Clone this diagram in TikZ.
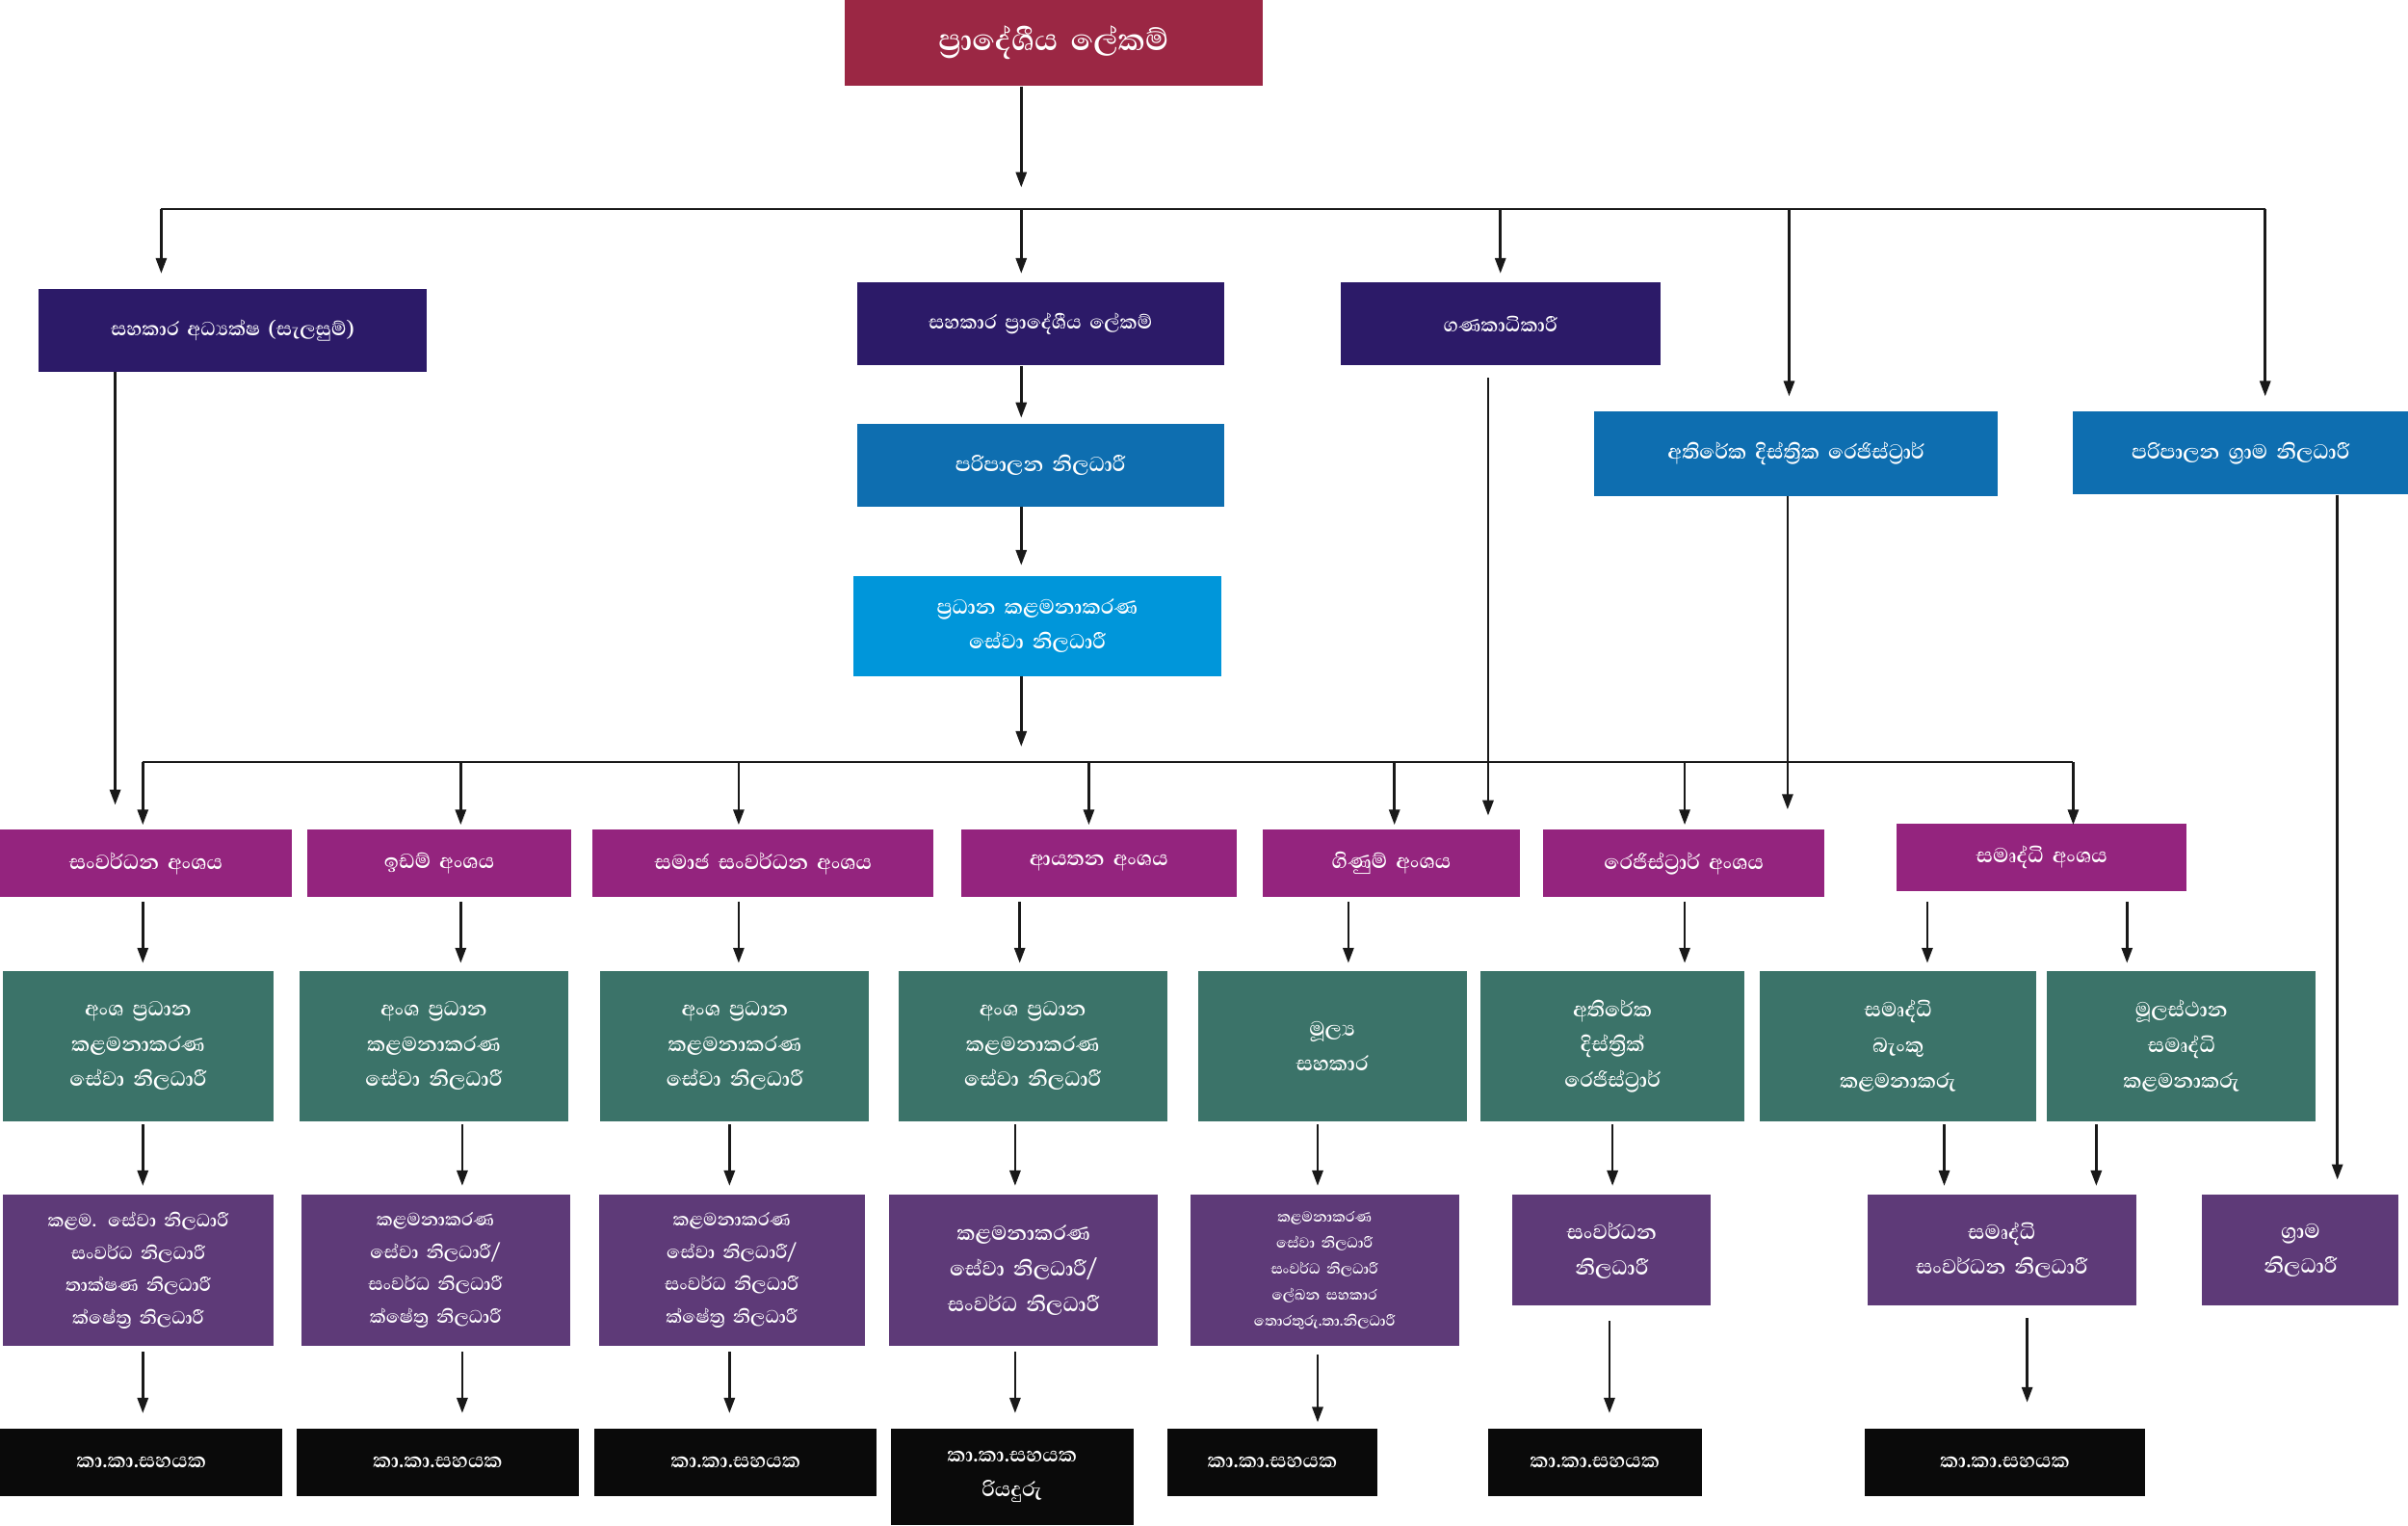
\documentclass[tikz,border=0pt]{standalone}
\usepackage{fontspec}
\newfontfamily\sinfont[Script=Sinhala]{Abhaya Libre}
\usetikzlibrary{arrows.meta}
\definecolor{cmaroon}{RGB}{155,39,68}
\definecolor{cindigo}{RGB}{44,26,104}
\definecolor{cblue}{RGB}{14,110,176}
\definecolor{clblue}{RGB}{0,150,218}
\definecolor{cmag}{RGB}{148,36,126}
\definecolor{cteal}{RGB}{59,115,105}
\definecolor{cpurp}{RGB}{94,58,120}
\definecolor{cblack}{RGB}{10,10,10}
\tikzset{box/.style={draw=none,inner sep=0pt,text=white,align=center,font=\sinfont\bfseries\fontsize{17}{23}\selectfont},
arr/.style={-{Triangle[length=10pt,width=7pt]},line width=1.6pt,draw=black!90},
ln/.style={line width=1.6pt,draw=black!90}}
\newcommand\bx[8][]{\node[box,fill=#7,minimum width={(#4-#2)*1pt},minimum height={(#5-#3)*1pt},text width={(#4-#2-6)*1pt},#1] (#6) at ({(#2+#4)/2},{(#3+#5)/2}) {#8};}
\begin{document}
\begin{tikzpicture}[x=1pt,y=-1pt]
\useasboundingbox (0,0) rectangle (1568,993);
\bx[font=\sinfont\bfseries\fontsize{25}{30}\selectfont]{550}{0}{822}{56}{top}{cmaroon}{ප්‍රාදේශීය ලේකම්}
\bx[font=\sinfont\bfseries\fontsize{16}{22}\selectfont]{25}{188}{278}{242}{aa}{cindigo}{සහකාර අධ්‍යක්ෂ (සැලසුම්)}
\bx[font=\sinfont\bfseries\fontsize{16}{22}\selectfont]{558}{184}{797}{238}{apl}{cindigo}{සහකාර ප්‍රාදේශීය ලේකම්}
\bx[font=\sinfont\bfseries\fontsize{16}{22}\selectfont]{873}{184}{1081}{238}{gk}{cindigo}{ගණකාධිකාරී}
\bx{558}{276}{797}{330}{pn}{cblue}{පරිපාලන නිලධාරී}
\bx{556}{375}{795}{440}{pk}{clblue}{ප්‍රධාන කළමනාකරණ\\සේවා නිලධාරී}
\bx{1038}{268}{1301}{323}{ad}{cblue}{අතිරේක දිස්ත්‍රික රෙජිස්ට්‍රාර්}
\bx{1350}{268}{1568}{322}{pg}{cblue}{පරිපාලන ග්‍රාම නිලධාරී}
% magenta row
\bx{0}{540}{190}{584}{m1}{cmag}{සංවර්ධන අංශය}
\bx{200}{540}{372}{584}{m2}{cmag}{ඉඩම් අංශය}
\bx{386}{540}{608}{584}{m3}{cmag}{සමාජ සංවර්ධන අංශය}
\bx{626}{540}{805}{584}{m4}{cmag}{ආයතන අංශය}
\bx{822}{540}{990}{584}{m5}{cmag}{ගිණුම් අංශය}
\bx{1005}{540}{1188}{584}{m6}{cmag}{රෙජිස්ට්‍රාර් අංශය}
\bx{1235}{536}{1424}{580}{m7}{cmag}{සමෘද්ධි අංශය}
% teal row
\bx{2}{632}{178}{730}{t1}{cteal}{අංශ ප්‍රධාන\\කළමනාකරණ\\සේවා නිලධාරී}
\bx{195}{632}{370}{730}{t2}{cteal}{අංශ ප්‍රධාන\\කළමනාකරණ\\සේවා නිලධාරී}
\bx{391}{632}{566}{730}{t3}{cteal}{අංශ ප්‍රධාන\\කළමනාකරණ\\සේවා නිලධාරී}
\bx{585}{632}{760}{730}{t4}{cteal}{අංශ ප්‍රධාන\\කළමනාකරණ\\සේවා නිලධාරී}
\bx{780}{632}{955}{730}{t5}{cteal}{මූල්‍ය\\සහකාර}
\bx{964}{632}{1136}{730}{t6}{cteal}{අතිරේක\\දිස්ත්‍රික්\\රෙජිස්ට්‍රාර්}
\bx{1146}{632}{1326}{730}{t7}{cteal}{සමෘද්ධි\\බැංකු\\කළමනාකරු}
\bx{1333}{632}{1508}{730}{t8}{cteal}{මූලස්ථාන\\සමෘද්ධි\\කළමනාකරු}
% purple row
\bx[font=\sinfont\bfseries\fontsize{15}{21}\selectfont]{2}{778}{178}{876}{p1}{cpurp}{කළම. සේවා නිලධාරී\\සංවර්ධ නිලධාරී\\තාක්ෂණ නිලධාරී\\ක්ෂේත්‍ර නිලධාරී}
\bx[font=\sinfont\bfseries\fontsize{15}{21}\selectfont]{196}{778}{371}{876}{p2}{cpurp}{කළමනාකරණ\\සේවා නිලධාරී/\\සංවර්ධ නිලධාරී\\ක්ෂේත්‍ර නිලධාරී}
\bx[font=\sinfont\bfseries\fontsize{15}{21}\selectfont]{390}{778}{563}{876}{p3}{cpurp}{කළමනාකරණ\\සේවා නිලධාරී/\\සංවර්ධ නිලධාරී\\ක්ෂේත්‍ර නිලධාරී}
\bx{579}{778}{754}{876}{p4}{cpurp}{කළමනාකරණ\\සේවා නිලධාරී/\\සංවර්ධ නිලධාරී}
\bx[font=\sinfont\bfseries\fontsize{12}{17}\selectfont]{775}{778}{950}{876}{p5}{cpurp}{කළමනාකරණ\\සේවා නිලධාරී\\සංවර්ධ නිලධාරී\\ලේඛන සහකාර\\තොරතුරු.තා.නිලධාරී}
\bx{985}{778}{1114}{850}{p6}{cpurp}{සංවර්ධන\\නිලධාරී}
\bx{1216}{778}{1391}{850}{p7}{cpurp}{සමෘද්ධි\\සංවර්ධන නිලධාරී}
\bx{1434}{778}{1562}{850}{p8}{cpurp}{ග්‍රාම\\නිලධාරී}
% black row
\bx{0}{930}{184}{974}{b1}{cblack}{කා.කා.සහයක}
\bx{193}{930}{377}{974}{b2}{cblack}{කා.කා.සහයක}
\bx{387}{930}{571}{974}{b3}{cblack}{කා.කා.සහයක}
\bx{580}{930}{738}{993}{b4}{cblack}{කා.කා.සහයක\\රියදුරු}
\bx{760}{930}{897}{974}{b5}{cblack}{කා.කා.සහයක}
\bx{969}{930}{1108}{974}{b6}{cblack}{කා.කා.සහයක}
\bx{1214}{930}{1397}{974}{b7}{cblack}{කා.කා.සහයක}
% top connectors
\coordinate (h1) at (105,136); \coordinate (h2) at (1475,136);
\draw[arr] (top.south -| 665,0) -- (665,122);
\draw[ln] (h1) -- (h2);
\draw[arr] (h1) -- (105,178);
\draw[arr] (665,136) -- (665,178);
\draw[arr] (977,136) -- (977,178);
\draw[arr] (1165,136) -- (1165,258);
\draw[arr] (h2) -- (1475,258);
\draw[arr] (apl.south -| 665,0) -- (665,272);
\draw[arr] (pn.south -| 665,0) -- (665,368);
\draw[arr] (pk.south -| 665,0) -- (665,486);
% second bus
\coordinate (g1) at (93,496); \coordinate (g2) at (1350,496);
\draw[ln] (g1) -- (g2);
\foreach \x in {93,300,481,709,908,1097,1350} \draw[arr] (\x,496) -- (\x,537);
% long verticals
\draw[arr] (aa.south -| 75,0) -- (75,524);
\draw[arr] (969,246) -- (969,531);
\draw[arr] (ad.south -| 1164,0) -- (1164,527);
\draw[arr] (pg.south -| 1522,0) -- (1522,768);
% magenta -> teal
\foreach \x in {93,300,481,664,878,1097,1255,1385} \draw[arr] (\x,587) -- (\x,627);
% teal -> purple
\foreach \x in {93,301,475,661,858,1050,1266,1365} \draw[arr] (\x,732) -- (\x,772);
% purple -> black
\foreach \x in {93,301,475,661} \draw[arr] (\x,880) -- (\x,920);
\draw[arr] (858,882) -- (858,926);
\draw[arr] (1048,860) -- (1048,920);
\draw[arr] (1320,858) -- (1320,913);
\end{tikzpicture}
\end{document}
